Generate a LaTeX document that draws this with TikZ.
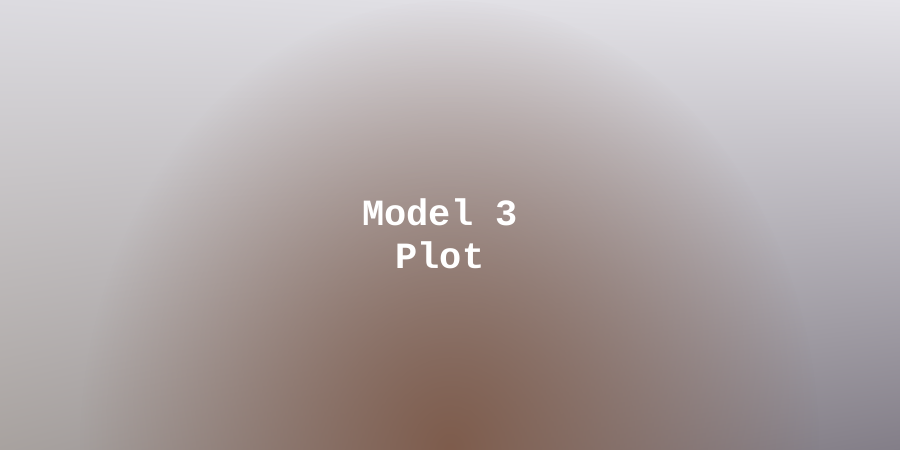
\documentclass[tikz,border=0pt]{standalone}
\usepackage{fontspec}
\newfontfamily\pixfont{Liberation Mono}
\usetikzlibrary{fadings,shadings}
\tikzfading[name=blobfade, inner color=transparent!0, outer color=transparent!100]
\definecolor{bgul}{HTML}{DCDBE0}
\definecolor{bgur}{HTML}{E5E4E9}
\definecolor{bgll}{HTML}{A8A29F}
\definecolor{bglr}{HTML}{837E88}
\definecolor{blob}{HTML}{7E5C4C}
\begin{document}
\begin{tikzpicture}[x=1pt,y=1pt,
    title/.style={text=white, font=\pixfont\bfseries\fontsize{37}{43}\selectfont, anchor=base, inner sep=0pt}]
		\useasboundingbox (0,0) rectangle (900,450);
		\shade[upper left=bgul, upper right=bgur, lower left=bgll, lower right=bglr] (0,0) rectangle (900,450);
		\fill[blob, path fading=blobfade] (450,0) ellipse [x radius=370, y radius=450];
		\node[title] (line1) at (440,224) {Model 3};
		\node[title] (line2) at (440,181) {Plot};
	\end{tikzpicture}
\end{document}
